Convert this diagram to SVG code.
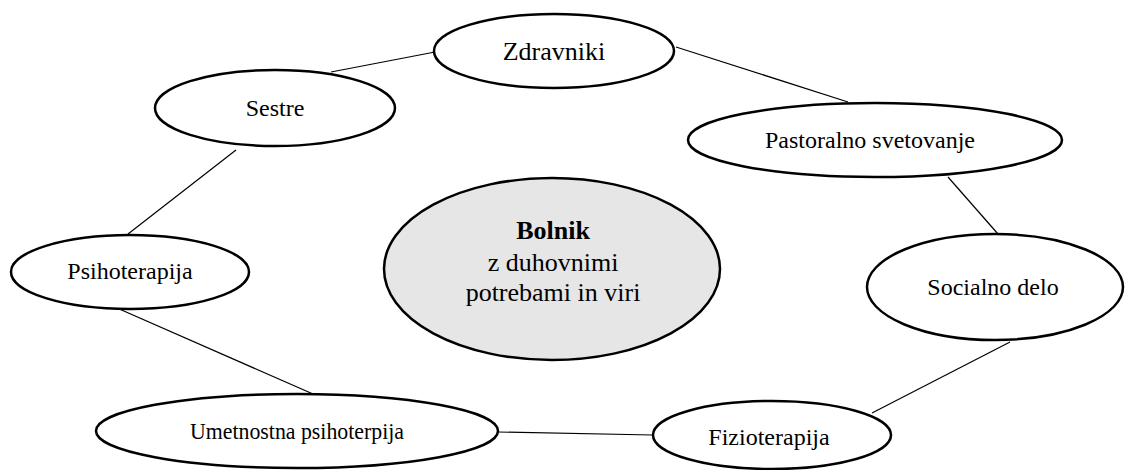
<svg xmlns="http://www.w3.org/2000/svg" width="1127" height="470" viewBox="0 0 1127 470">
  <style>
    .node { fill: #ffffff; stroke: #000000; stroke-width: 2.5; }
    .core { fill: #e6e6e6; stroke: #000000; stroke-width: 2.5; }
    .label { font-family: "Liberation Serif", "Times New Roman", serif; font-size: 24px; fill: #000000; text-anchor: middle; }
    .big { font-size: 26px; }
    .links line { stroke: #000000; stroke-width: 1.2; }
  </style>
  <rect width="1127" height="470" fill="#ffffff"/>

  <!-- connectors around the ring -->
  <g id="connectors" class="links">
    <line x1="331" y1="72" x2="435" y2="52"/>
    <line x1="676" y1="47" x2="848" y2="102"/>
    <line x1="948" y1="177" x2="998" y2="234"/>
    <line x1="1010" y1="342" x2="872" y2="413"/>
    <line x1="653" y1="435" x2="498" y2="432"/>
    <line x1="313" y1="394" x2="117" y2="308"/>
    <line x1="128" y1="234" x2="236" y2="150"/>
  </g>

  <g id="bolnik">
    <ellipse class="core" cx="552" cy="269" rx="168" ry="91"/>
    <text class="label big" x="553" y="239" font-weight="bold">Bolnik</text>
    <text class="label big" x="553" y="271">z duhovnimi</text>
    <text class="label big" x="553" y="301">potrebami in viri</text>
  </g>

  <g id="zdravniki">
    <ellipse class="node" cx="554" cy="51" rx="120" ry="37"/>
    <text class="label big" x="554" y="60">Zdravniki</text>
  </g>

  <g id="sestre">
    <ellipse class="node" cx="275" cy="108" rx="120" ry="38"/>
    <text class="label" x="275" y="116">Sestre</text>
  </g>

  <g id="pastoralno">
    <ellipse class="node" cx="875" cy="140" rx="187" ry="37"/>
    <text class="label" x="870" y="148">Pastoralno svetovanje</text>
  </g>

  <g id="socialno">
    <ellipse class="node" cx="995" cy="287" rx="128" ry="53"/>
    <text class="label" x="993" y="295">Socialno delo</text>
  </g>

  <g id="psihoterapija">
    <ellipse class="node" cx="130" cy="272" rx="119" ry="37"/>
    <text class="label" x="130" y="279">Psihoterapija</text>
  </g>

  <g id="umetnostna">
    <ellipse class="node" cx="297" cy="431" rx="201" ry="37"/>
    <text class="label" x="297" y="439" textLength="214" lengthAdjust="spacingAndGlyphs">Umetnostna psihoterpija</text>
  </g>

  <g id="fizioterapija">
    <ellipse class="node" cx="772" cy="435" rx="119" ry="34"/>
    <text class="label" x="769" y="445">Fizioterapija</text>
  </g>
</svg>
